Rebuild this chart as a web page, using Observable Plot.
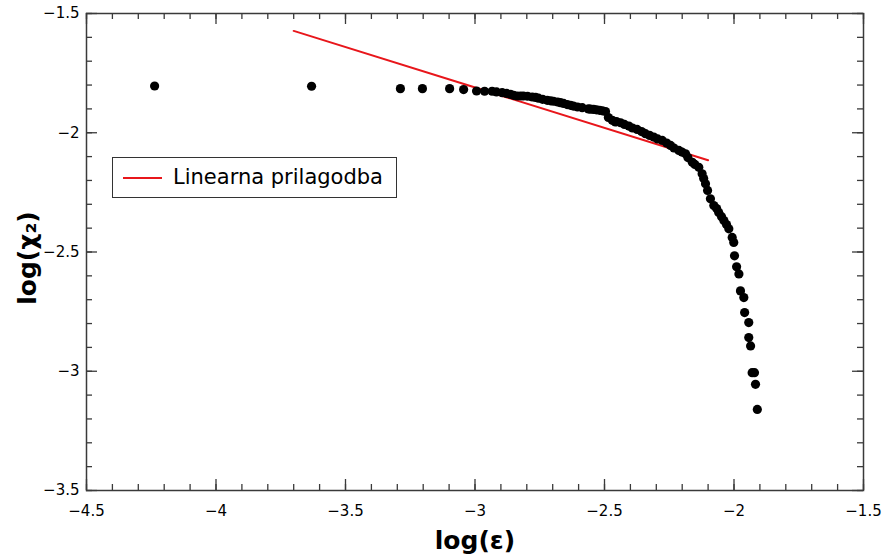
<!DOCTYPE html>
<html>
<head>
<meta charset="utf-8">
<script src="https://cdn.jsdelivr.net/npm/d3@7"></script>
<script src="https://cdn.jsdelivr.net/npm/@observablehq/plot@0.6"></script>
<style>
  body { margin: 0; background: #fff; }
  #wrap { position: relative; width: 885px; height: 558px; }
  #legend { position: absolute; left: 112px; top: 157px; width: 283px; height: 39px;
    border: 1.5px solid #333; background: #fff; font-family: "DejaVu Sans", sans-serif; }
  #legend .sw { position: absolute; left: 10px; top: 19px; width: 39px; height: 0; border-top: 2px solid #e8161b; }
  #legend .tx { position: absolute; left: 60px; top: 5px; font-size: 21px; color: #000; line-height: 28px; }
</style>
</head>
<body>
<div id="wrap"></div>
<script>
// log(ε) values of the measured points
const logEps = [-4.237, -3.631, -3.288, -3.203, -3.098, -3.044, -2.994, -2.963, -2.934, -2.917,
  -2.895, -2.878, -2.863, -2.851, -2.837, -2.824, -2.813, -2.797, -2.779, -2.766,
  -2.755, -2.739, -2.721, -2.708, -2.697, -2.681, -2.670, -2.658, -2.644, -2.631,
  -2.620, -2.604, -2.586, -2.562, -2.554, -2.542, -2.531, -2.519, -2.508, -2.496,
  -2.485, -2.470, -2.458, -2.454, -2.438, -2.423, -2.406, -2.392, -2.374, -2.357,
  -2.342, -2.326, -2.310, -2.295, -2.277, -2.260, -2.245, -2.232, -2.213, -2.201,
  -2.187, -2.178, -2.161, -2.151, -2.136, -2.123, -2.117, -2.110, -2.102, -2.091,
  -2.078, -2.067, -2.059, -2.048, -2.039, -2.029, -2.020, -2.007, -2.001, -1.998,
  -1.990, -1.981, -1.975, -1.962, -1.959, -1.943, -1.943, -1.936, -1.930, -1.921,
  -1.917, -1.910];
// log(χ2) values of the measured points
const logChi = [-1.804, -1.805, -1.815, -1.815, -1.815, -1.819, -1.825, -1.826, -1.826, -1.829,
  -1.832, -1.835, -1.839, -1.843, -1.846, -1.846, -1.846, -1.847, -1.850, -1.852,
  -1.855, -1.860, -1.864, -1.866, -1.868, -1.871, -1.874, -1.877, -1.882, -1.885,
  -1.888, -1.892, -1.895, -1.900, -1.901, -1.902, -1.904, -1.906, -1.908, -1.911,
  -1.936, -1.948, -1.955, -1.953, -1.958, -1.965, -1.972, -1.980, -1.986, -1.995,
  -2.004, -2.011, -2.018, -2.026, -2.032, -2.043, -2.053, -2.064, -2.074, -2.081,
  -2.088, -2.104, -2.124, -2.133, -2.145, -2.172, -2.192, -2.214, -2.242, -2.277,
  -2.305, -2.318, -2.334, -2.352, -2.368, -2.385, -2.403, -2.439, -2.460, -2.516,
  -2.562, -2.592, -2.663, -2.691, -2.754, -2.796, -2.859, -2.894, -3.006, -3.006,
  -3.055, -3.160];
// linear fit end points
const fitX = [-3.7, -2.1];
const fitY = [-1.573, -2.115];
// tick labels
const xTicks = [-4.5, -4, -3.5, -3, -2.5, -2, -1.5];
const yTicks = [-1.5, -2, -2.5, -3, -3.5];
const legendLabel = "Linearna prilagodba";
const xTitle = "log(ε)";
const yTitle = "log(χ₂)";

const points = logEps.map((x, i) => ({x, y: logChi[i]}));
const fit = fitX.map((x, i) => ({x, y: fitY[i]}));
const xMinor = d3.range(0, 31).map(i => -4.5 + i * 0.1);
const yMinor = d3.range(0, 21).map(i => -3.5 + i * 0.1);

const W = 885, H = 558, mL = 86, mR = 22, mT = 13, mB = 68;
const PW = W - mL - mR, PH = H - mT - mB;
const axC = "#3a3a3a";
const fmt = d => (d < 0 ? "\u2212" : "") + Math.abs(d);

const chart = Plot.plot({
  width: W, height: H,
  marginLeft: mL, marginRight: mR, marginTop: mT, marginBottom: mB,
  x: {domain: [-4.5, -1.5]},
  y: {domain: [-3.5, -1.5]},
  style: {fontFamily: "DejaVu Sans, sans-serif", fontSize: "15px", color: "#000", background: "#fff"},
  marks: [
    Plot.tickX(xMinor, {x: d => d, insetBottom: PH - 6, stroke: axC, strokeWidth: 1.3}),
    Plot.tickX(xMinor, {x: d => d, insetTop: PH - 6, stroke: axC, strokeWidth: 1.3}),
    Plot.tickX(xTicks, {x: d => d, insetBottom: PH - 11, stroke: axC, strokeWidth: 1.3}),
    Plot.tickX(xTicks, {x: d => d, insetTop: PH - 11, stroke: axC, strokeWidth: 1.3}),
    Plot.tickY(yMinor, {y: d => d, insetRight: PW - 6, stroke: axC, strokeWidth: 1.3}),
    Plot.tickY(yMinor, {y: d => d, insetLeft: PW - 6, stroke: axC, strokeWidth: 1.3}),
    Plot.tickY(yTicks, {y: d => d, insetRight: PW - 11, stroke: axC, strokeWidth: 1.3}),
    Plot.tickY(yTicks, {y: d => d, insetLeft: PW - 11, stroke: axC, strokeWidth: 1.3}),
    Plot.frame({stroke: axC, strokeWidth: 1.5}),
    Plot.axisX({ticks: xTicks, tickSize: 0, tickPadding: 15, tickFormat: fmt, label: null, fontSize: 15}),
    Plot.axisY({ticks: yTicks, tickSize: 0, tickPadding: 7, tickFormat: fmt, label: null, fontSize: 15}),
    Plot.line(fit, {x: "x", y: "y", stroke: "#e8161b", strokeWidth: 2}),
    Plot.dot(points, {x: "x", y: "y", r: 4.6, fill: "#000", stroke: "none"}),
    Plot.text([xTitle], {frameAnchor: "bottom", dy: 50, text: d => d, fontSize: 25, fontWeight: "bold", lineAnchor: "middle", fill: "#000"}),
    Plot.text([yTitle], {frameAnchor: "left", dx: -59, dy: 6, text: d => d, fontSize: 25, fontWeight: "bold", rotate: -90, textAnchor: "middle", lineAnchor: "middle", fill: "#000"})
  ]
});
const wrap = document.getElementById("wrap");
wrap.appendChild(chart);
const lg = document.createElement("div");
lg.id = "legend";
lg.innerHTML = '<div class="sw"></div><div class="tx"></div>';
lg.querySelector(".tx").textContent = legendLabel;
wrap.appendChild(lg);
</script>
</body>
</html>
